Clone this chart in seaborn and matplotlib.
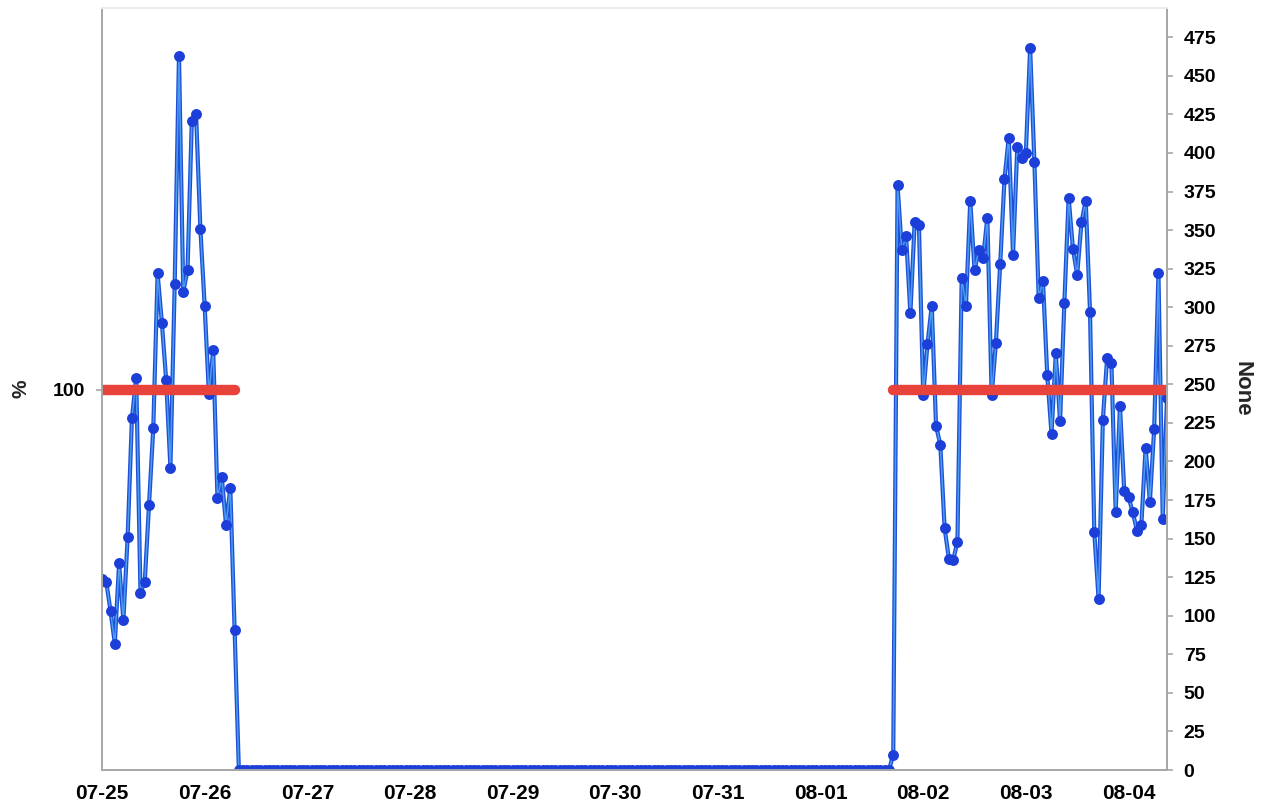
import numpy as np
import pandas as pd
import matplotlib
matplotlib.use("Agg")
import matplotlib.pyplot as plt
import seaborn as sns

# Hourly readings, first block starting 07-25 00:00
first_block = [124, 122, 103, 82, 134, 97, 151, 228, 254, 115, 122, 172, 222,
               322, 290, 253, 196, 315, 463, 310, 324, 421, 425, 351, 301, 244,
               272, 176, 190, 159, 183, 91, 0]
# Hours with no activity between the two blocks
idle_hours = 152
# Second block, starting 08-01 17:00
second_block = [10, 379, 337, 346, 296, 355, 353, 243, 276, 301,
                223, 211, 157, 137, 136, 148, 319, 301, 369, 324,
                337, 332, 358, 243, 277, 328, 383, 410, 334, 404,
                397, 400, 468, 394, 306, 317, 256, 218, 270, 226,
                303, 371, 338, 321, 355, 369, 297, 154, 111, 227,
                267, 264, 167, 236, 181, 177, 167, 155, 159, 209,
                174, 221, 322, 163, 241]
target_pct = 100.0
start = "2024-07-25 00:00"
day_labels = ["07-25", "07-26", "07-27", "07-28", "07-29", "07-30",
              "07-31", "08-01", "08-02", "08-03", "08-04"]

values = first_block + [0] * idle_hours + second_block
times = pd.date_range(start, periods=len(values), freq="h")
df = pd.DataFrame({"time": times, "value": values})

# target line only spans the hours with activity, one run per block
active = df["value"] > 0
target = df[active].copy()
target["pct"] = target_pct
target["block"] = (~active).cumsum()[active]

sns.set_style("white")
plt.rcParams["font.family"] = ["Liberation Sans", "DejaVu Sans"]
plt.rcParams["font.weight"] = "bold"

fig = plt.figure(figsize=(12.7, 8.09), dpi=100)
ax = fig.add_axes([0.0803, 0.0482, 0.8386, 0.942])
ax2 = ax.twinx()

line_dark = "#1f4fd6"
line_light = "#4a9cf0"
marker_col = "#1b3fd8"

sns.lineplot(data=df, x="time", y="value", ax=ax2, color=line_dark,
             linewidth=3.0, estimator=None, legend=False)
sns.lineplot(data=df, x="time", y="value", ax=ax2, color=line_light,
             linewidth=1.1, estimator=None, legend=False)
sns.scatterplot(data=df, x="time", y="value", ax=ax2, color=marker_col,
                s=62, linewidth=0, legend=False, zorder=3)

sns.lineplot(data=target, x="time", y="pct", units="block", ax=ax,
             color="#e8433a", linewidth=7.5, estimator=None, legend=False,
             solid_capstyle="round")

# red target line sits above the blue series
ax.set_zorder(ax2.get_zorder() + 1)
ax.patch.set_visible(False)

ax.set_xlim(times[0], times[-1])
ax.set_ylim(0, 200.5)
ax.set_yticks([target_pct])
ax.set_yticklabels(["100"])
ax.set_ylabel("%", fontsize=15, fontweight="bold", labelpad=16)

ax2.set_ylim(0, 494)
ax2.set_yticks(np.arange(0, 476, 25))
ax2.set_ylabel("None", fontsize=16, fontweight="bold", rotation=270,
               labelpad=26)

ticks = pd.date_range(start, periods=len(day_labels), freq="D")
ax.set_xticks(ticks)
ax.set_xticklabels(day_labels)
ax.set_xlabel("")
ax2.set_xlabel("")

spine_col = "#a8a8a8"
for a in (ax, ax2):
    for s in a.spines.values():
        s.set_color(spine_col)
        s.set_linewidth(1.4)
    a.spines["top"].set_color("#ececec")
    a.tick_params(axis="both", colors=spine_col, length=4, width=1.2,
                  labelcolor="black", labelsize=14)
ax.tick_params(axis="x", labelsize=15, pad=6)
ax.tick_params(axis="y", pad=8)
ax2.tick_params(axis="y", pad=8)
for lab in ax.get_xticklabels() + ax.get_yticklabels() + ax2.get_yticklabels():
    lab.set_fontweight("bold")

fig.savefig("out.png", dpi=100, facecolor="white")
